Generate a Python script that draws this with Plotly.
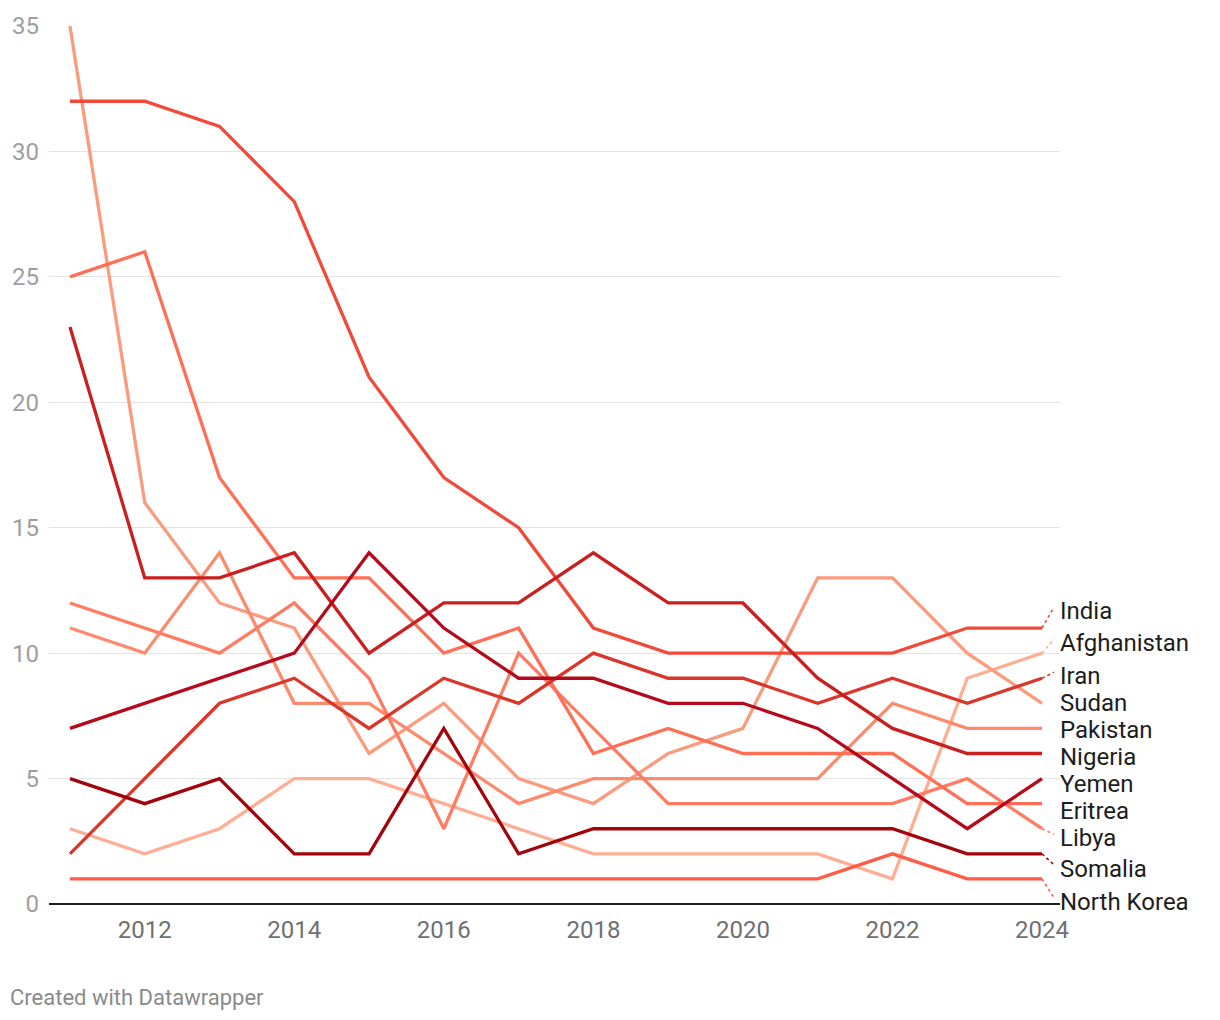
import plotly.graph_objects as go

years = list(range(2011, 2025))

countries = ["India", "Afghanistan", "Iran", "Sudan", "Pakistan", "Nigeria",
             "Yemen", "Eritrea", "Libya", "Somalia", "North Korea"]

india = [32, 32, 31, 28, 21, 17, 15, 11, 10, 10, 10, 10, 11, 11]
afghanistan = [3, 2, 3, 5, 5, 4, 3, 2, 2, 2, 2, 1, 9, 10]
iran = [2, 5, 8, 9, 7, 9, 8, 10, 9, 9, 8, 9, 8, 9]
sudan = [35, 16, 12, 11, 6, 8, 5, 4, 6, 7, 13, 13, 10, 8]
pakistan = [11, 10, 14, 8, 8, 6, 4, 5, 5, 5, 5, 8, 7, 7]
nigeria = [23, 13, 13, 14, 10, 12, 12, 14, 12, 12, 9, 7, 6, 6]
yemen = [7, 8, 9, 10, 14, 11, 9, 9, 8, 8, 7, 5, 3, 5]
eritrea = [25, 26, 17, 13, 13, 10, 11, 6, 7, 6, 6, 6, 4, 4]
libya = [12, 11, 10, 12, 9, 3, 10, 7, 4, 4, 4, 4, 5, 3]
somalia = [5, 4, 5, 2, 2, 7, 2, 3, 3, 3, 3, 3, 2, 2]
north_korea = [1, 1, 1, 1, 1, 1, 1, 1, 1, 1, 1, 2, 1, 1]

series = {
    "India": india, "Afghanistan": afghanistan, "Iran": iran, "Sudan": sudan,
    "Pakistan": pakistan, "Nigeria": nigeria, "Yemen": yemen, "Eritrea": eritrea,
    "Libya": libya, "Somalia": somalia, "North Korea": north_korea,
}

colors = {
    "India": "#ef4a3a", "Afghanistan": "#feae92", "Iran": "#da3629",
    "Sudan": "#fb9b7e", "Pakistan": "#fd8a6c", "Nigeria": "#c91f1f",
    "Yemen": "#b40a1c", "Eritrea": "#fe6f56", "Libya": "#ff7b62",
    "Somalia": "#a3040c", "North Korea": "#ff5b47",
}

# label nudges in screen pixels (positive = downward), and which labels get a connector
label_nudge_px = {
    "India": -17, "Afghanistan": -10, "Iran": -2, "Sudan": 0, "Pakistan": 2,
    "Nigeria": 4, "Yemen": 5, "Eritrea": 7, "Libya": 9.5, "Somalia": 15,
    "North Korea": 23,
}
connector = {"India", "Afghanistan", "Iran", "Libya", "Somalia", "North Korea"}

draw_order = ["Afghanistan", "Sudan", "Pakistan", "Libya", "Eritrea", "North Korea",
              "India", "Iran", "Nigeria", "Yemen", "Somalia"]

fig = go.Figure()
for name in draw_order:
    fig.add_trace(go.Scatter(
        x=years, y=series[name], mode="lines", name=name,
        line=dict(color=colors[name], width=3.3),
        hoverinfo="x+y+name", showlegend=False, cliponaxis=False,
    ))

shapes = []
annotations = []
for name in countries:
    last_x = years[-1]
    last_y = series[name][-1]
    nudge = label_nudge_px[name]
    if name in connector:
        shapes.append(dict(
            type="line", xref="x", yref="y",
            xsizemode="pixel", xanchor=last_x, x0=0, x1=12,
            ysizemode="pixel", yanchor=last_y, y0=0, y1=-(nudge - 4),
            line=dict(color=colors[name], width=1.6, dash="dot"),
        ))
    annotations.append(dict(
        x=last_x, y=last_y, xref="x", yref="y", text=name, showarrow=False,
        xanchor="left", yanchor="middle", xshift=16, yshift=-nudge,
        font=dict(family="Roboto", size=24, color="#1d1d1d"),
    ))

annotations.append(dict(
    x=0, y=0, xref="paper", yref="paper", text="Created with Datawrapper",
    showarrow=False, xanchor="left", yanchor="middle", xshift=-41, yshift=-93,
    font=dict(family="Roboto", size=22, color="#8a8a8a"),
))

fig.update_layout(
    width=1220, height=1020,
    margin=dict(l=47, r=160, t=24, b=116, pad=0),
    paper_bgcolor="white", plot_bgcolor="white",
    font=dict(family="Roboto"),
    shapes=shapes, annotations=annotations,
    xaxis=dict(
        range=[2010.7197, 2024.2403], tickvals=list(range(2012, 2025, 2)),
        showgrid=False, zeroline=False, showline=False, ticks="",
        tickfont=dict(family="Roboto", size=24, color="#707070"),
        ticklabelstandoff=9, fixedrange=True,
    ),
    yaxis=dict(
        range=[0, 35], tickvals=[0, 5, 10, 15, 20, 25, 30, 35],
        showgrid=True, gridcolor="#e3e3e3", gridwidth=1.3,
        zeroline=True, zerolinecolor="#1d1d1d", zerolinewidth=1.6,
        showline=False, ticks="",
        tickfont=dict(family="Roboto", size=24, color="#9e9e9e"),
        ticklabelstandoff=9, fixedrange=True,
    ),
)

fig.write_html(
    "out.html",
    config={"displayModeBar": False},
    post_script="document.body.style.margin='0px';document.body.style.padding='0px';",
)
